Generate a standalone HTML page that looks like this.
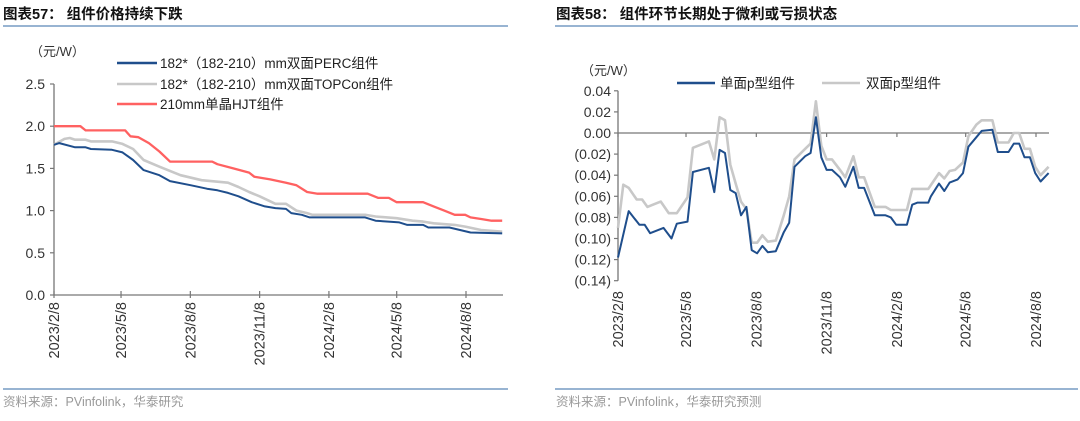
<!DOCTYPE html>
<html><head><meta charset="utf-8">
<style>
html,body{margin:0;padding:0;background:#fff;}
body{width:1080px;height:416px;overflow:hidden;font-family:"Liberation Sans","Noto Sans CJK SC",sans-serif;}
svg text{font-family:"Liberation Sans","Noto Sans CJK SC",sans-serif;}
</style></head>
<body>
<svg id="chart" width="1080" height="416" viewBox="0 0 1080 416" xmlns="http://www.w3.org/2000/svg">
  <text x="3" y="19" font-size="14.5" font-weight="bold" fill="#111">图表57：  组件价格持续下跌</text>
  <line x1="3" y1="26" x2="508" y2="26" stroke="#5b86b8" stroke-width="1.2"/>
  <text x="556" y="19" font-size="14.5" font-weight="bold" fill="#111">图表58：  组件环节长期处于微利或亏损状态</text>
  <line x1="555" y1="26" x2="1078" y2="26" stroke="#5b86b8" stroke-width="1.2"/>
  <line x1="3" y1="389" x2="508" y2="389" stroke="#5b86b8" stroke-width="1.2"/>
  <line x1="555" y1="389" x2="1078" y2="389" stroke="#5b86b8" stroke-width="1.2"/>
  <text x="3" y="406" font-size="12.5" fill="#999">资料来源：PVinfolink，华泰研究</text>
  <text x="556" y="406" font-size="12.5" fill="#999">资料来源：PVinfolink，华泰研究预测</text>

  <text x="30" y="56" font-size="13" fill="#333">（元/W）</text>
  <text x="581" y="75" font-size="13" fill="#333">（元/W）</text>

  <g id="left"></g>
  <g id="right"></g>
</svg>
<script>
// ---- Left chart data (week index since 2023/2/8) ----
var perc_weeks = [0,1,4,6,7,11,13,15,17,20,22,26,29,31,33,35,37.5,40,42,44,45,47,48.5,59,61,65.5,67,70,71,75,77,79,85];
var perc_values = [1.78,1.80,1.75,1.75,1.73,1.72,1.69,1.60,1.48,1.42,1.35,1.30,1.26,1.24,1.21,1.17,1.10,1.05,1.03,1.02,0.97,0.95,0.92,0.92,0.88,0.86,0.83,0.83,0.80,0.80,0.77,0.74,0.73];
var topcon_weeks = [0,2,3,4,6,7,11,13,15,17,20,24,28,33,35,37,39,42,44,46,48,49,59,61,65,68,70,72,76,78,81,85];
var topcon_values = [1.78,1.85,1.86,1.84,1.84,1.82,1.82,1.79,1.73,1.60,1.52,1.42,1.36,1.33,1.28,1.22,1.17,1.08,1.08,1.00,0.97,0.95,0.95,0.93,0.91,0.88,0.87,0.85,0.83,0.81,0.77,0.75];
var hjt_weeks = [0,5,6,13.5,14.5,16,18,20,22,30,31,34,37,38,41,44,46,48,50,59.5,61.5,63.5,65,70,72,74,76,78,79,81,83,85];
var hjt_values = [2.0,2.0,1.95,1.95,1.88,1.87,1.80,1.70,1.58,1.58,1.55,1.50,1.45,1.40,1.37,1.33,1.30,1.22,1.20,1.20,1.15,1.15,1.10,1.10,1.05,1.00,0.95,0.95,0.92,0.90,0.88,0.88];
var left_yticks = [0,0.5,1.0,1.5,2.0,2.5];
var left_ytick_labels = ["0.0","0.5","1.0","1.5","2.0","2.5"];
// ---- Right chart data ----
var single_weeks = [0,2,4,5,6,8.5,10,11,13,14,17,18,19,20,21,22,23,24,25,26,27,28,29.5,31,32,33,35,36,37,38,39,40,41.5,42.5,44,45,46,48,50,51,52,54,55,56,58,58.5,60,61,62,63.5,64.5,65.5,67,68,70,71,73,74,75,76,77,78,79,80.5];
var single_values = [-0.118,-0.074,-0.087,-0.087,-0.095,-0.090,-0.100,-0.086,-0.084,-0.037,-0.033,-0.056,-0.016,-0.019,-0.054,-0.057,-0.078,-0.070,-0.111,-0.114,-0.107,-0.113,-0.112,-0.094,-0.085,-0.032,-0.022,-0.019,0.015,-0.023,-0.035,-0.035,-0.042,-0.051,-0.032,-0.052,-0.052,-0.078,-0.078,-0.080,-0.087,-0.087,-0.068,-0.066,-0.066,-0.060,-0.048,-0.055,-0.047,-0.044,-0.038,-0.013,-0.004,0.002,0.003,-0.018,-0.018,-0.010,-0.010,-0.023,-0.023,-0.038,-0.046,-0.038];
var double_weeks = [0,1,2,3.5,4.5,5.5,7,8,9.5,11,13,14,17,18,19,20,21,22,23,24,25,26,27,28,29.5,31,32,33,35,36,37,38,39,40,41.5,42.5,44,45,46,48,50,51,54,55,58,60,61,62,63,64.5,65.5,67,68,70,71,73,74,75,76,77,78,79,80.5];
var double_values = [-0.090,-0.049,-0.052,-0.063,-0.063,-0.070,-0.067,-0.065,-0.076,-0.076,-0.061,-0.014,-0.008,-0.025,0.015,0.012,-0.030,-0.048,-0.065,-0.072,-0.104,-0.104,-0.097,-0.103,-0.102,-0.078,-0.060,-0.025,-0.015,-0.010,0.030,-0.012,-0.025,-0.025,-0.035,-0.042,-0.022,-0.042,-0.042,-0.070,-0.070,-0.073,-0.073,-0.053,-0.053,-0.038,-0.043,-0.036,-0.035,-0.028,-0.003,0.008,0.012,0.012,-0.009,-0.009,0.000,0.000,-0.015,-0.015,-0.032,-0.040,-0.032];
var right_yticks = [0.04,0.02,0,-0.02,-0.04,-0.06,-0.08,-0.10,-0.12,-0.14];
var right_ytick_labels = ["0.04","0.02","0.00","(0.02)","(0.04)","(0.06)","(0.08)","(0.10)","(0.12)","(0.14)"];
// shared x ticks (day offsets from 2023/2/8)
var xtick_days = [0,89,181,273,365,455,547];
var xtick_labels = ["2023/2/8","2023/5/8","2023/8/8","2023/11/8","2024/2/8","2024/5/8","2024/8/8"];

var NS = "http://www.w3.org/2000/svg";
function mk(parent, tag, attrs){var e=document.createElementNS(NS,tag);for(var k in attrs)e.setAttribute(k,attrs[k]);parent.appendChild(e);return e;}

// Left chart
(function(){
  var g=document.getElementById('left');
  var x0=54, x1=466, xEnd=503, y0=295, yTop=84;
  function xd(d){return x0+d*(x1-x0)/547;}
  function xw(w){return xd(w*7);}
  function y(v){return y0-(v/2.5)*(y0-yTop);}
  var ax=mk(g,'line',{x1:x0,y1:yTop,x2:x0,y2:y0,stroke:'#777','stroke-width':1.3});
  
  
  var bx=mk(g,'line',{x1:x0,y1:y0,x2:xEnd,y2:y0,stroke:'#777','stroke-width':1.3});
  
  
  left_yticks.forEach(function(v,i){
    var t=mk(g,'line',{x1:x0-4,y1:y(v),x2:x0,y2:y(v),stroke:'#777','stroke-width':1.2});
    
    
    var l=mk(g,'text',{x:x0-9,y:y(v)+5,'font-size':14,'text-anchor':'end',fill:'#333'});
    l.textContent=left_ytick_labels[i];
    
    
  });
  xtick_days.forEach(function(d,i){
    var xx=xd(d);
    var t=mk(g,'line',{x1:xx,y1:y0-4,x2:xx,y2:y0+3,stroke:'#777','stroke-width':1.2});
    
    
    var l=mk(g,'text',{x:0,y:0,'font-size':14.5,'text-anchor':'end',fill:'#333',transform:'translate('+(xx+5)+','+(y0+7)+') rotate(-90)'});
    l.textContent=xtick_labels[i];
    
    
  });
  function line(ws,vs,color,w,name){
    var p=ws.map(function(wk,i){return xw(wk).toFixed(1)+','+y(vs[i]).toFixed(1);}).join(' ');
    var e=mk(g,'polyline',{points:p,fill:'none',stroke:color,'stroke-width':w,'stroke-linejoin':'round'});
    
    
  }
  line(hjt_weeks,hjt_values,'#ff6161',2.3,'series-hjt');
  line(topcon_weeks,topcon_values,'#c8c8c8',2.6,'series-topcon');
  line(perc_weeks,perc_values,'#1f4e8c',2.0,'series-perc');
  var leg=[['#1f4e8c','182*（182-210）mm双面PERC组件',63],['#c8c8c8','182*（182-210）mm双面TOPCon组件',84],['#ff6161','210mm单晶HJT组件',104]];
  leg.forEach(function(L){
    var s=mk(g,'line',{x1:117,y1:L[2],x2:157,y2:L[2],stroke:L[0],'stroke-width':2.5});
    
    
    var t=mk(g,'text',{x:160,y:L[2]+5,'font-size':13.5,fill:'#222'});
    t.textContent=L[1];
    
    
  });
})();

// Right chart
(function(){
  var g=document.getElementById('right');
  var x0=618, x1=1036, xEnd=1049;
  function xd(d){return x0+d*(x1-x0)/547;}
  function xw(w){return xd(w*7);}
  function y(v){return 133-v*1055;}
  var ax=mk(g,'line',{x1:x0,y1:y(0.04),x2:x0,y2:y(-0.14),stroke:'#777','stroke-width':1.3});
  
  
  var bx=mk(g,'line',{x1:x0,y1:y(0),x2:xEnd,y2:y(0),stroke:'#777','stroke-width':1.3});
  
  
  right_yticks.forEach(function(v,i){
    var t=mk(g,'line',{x1:x0-4,y1:y(v),x2:x0,y2:y(v),stroke:'#777','stroke-width':1.2});
    
    
    var l=mk(g,'text',{x:x0-7,y:y(v)+5,'font-size':14,'text-anchor':'end',fill:'#333'});
    l.textContent=right_ytick_labels[i];
    
    
  });
  xtick_days.forEach(function(d,i){
    var xx=xd(d);
    var t=mk(g,'line',{x1:xx,y1:y(0),x2:xx,y2:y(0)+4,stroke:'#777','stroke-width':1.2});
    
    
    var l=mk(g,'text',{x:0,y:0,'font-size':14.5,'text-anchor':'end',fill:'#333',transform:'translate('+(xx+5)+',291) rotate(-90)'});
    l.textContent=xtick_labels[i];
    
    
  });
  function line(ws,vs,color,w,name){
    var p=ws.map(function(wk,i){return xw(wk).toFixed(1)+','+y(vs[i]).toFixed(1);}).join(' ');
    var e=mk(g,'polyline',{points:p,fill:'none',stroke:color,'stroke-width':w,'stroke-linejoin':'round'});
    
    
  }
  line(double_weeks,double_values,'#c8c8c8',2.6,'series-double-p');
  line(single_weeks,single_values,'#1f4e8c',2.0,'series-single-p');
  var leg=[['#1f4e8c','单面p型组件',677,720],['#c8c8c8','双面p型组件',822,866]];
  leg.forEach(function(L){
    var s=mk(g,'line',{x1:L[2],y1:83,x2:L[2]+38,y2:83,stroke:L[0],'stroke-width':2.5});
    
    
    var t=mk(g,'text',{x:L[3],y:88,'font-size':13.5,fill:'#222'});
    t.textContent=L[1];
    
    
  });
})();
</script>
</body></html>
